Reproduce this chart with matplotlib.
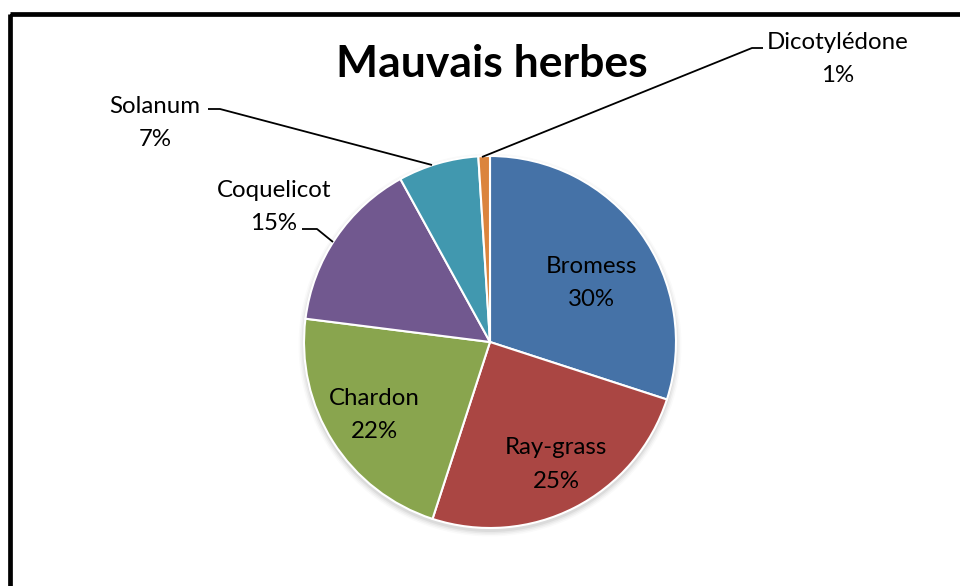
import matplotlib
matplotlib.use("Agg")
import matplotlib.pyplot as plt
from matplotlib.patches import Rectangle, Circle

# Weed shares (percent)
categories = ["Bromess", "Ray-grass", "Chardon", "Coquelicot", "Solanum", "Dicotylédone"]
values = [30, 25, 22, 15, 7, 1]
colors = ["#4572A7", "#AA4643", "#89A54E", "#71588F", "#4198AF", "#DB843D"]
title = "Mauvais herbes"

W, H = 960, 586
fig = plt.figure(figsize=(W / 100, H / 100), dpi=100)
ax = fig.add_axes([0, 0, 1, 1])

plt.rcParams["font.family"] = ["Lato", "DejaVu Sans"]

cx, cy, r = 490, 342, 186

# soft drop shadow under the pie
for k, a in enumerate([0.05, 0.04, 0.03, 0.02]):
    ax.add_patch(Circle((cx, cy + 3), r + 1 + k * 1.5, color="black",
                        alpha=a, lw=0, zorder=1))

# pie drawn in pixel space; y axis is inverted so direction is flipped
wedges, _ = ax.pie(values, colors=colors, startangle=-90, counterclock=True,
                   center=(cx, cy), radius=r,
                   wedgeprops=dict(edgecolor="white", linewidth=1.5), frame=True)
for w in wedges:
    w.set_zorder(2)
ax.set_xlim(0, W)
ax.set_ylim(H, 0)
ax.set_aspect("equal")
ax.axis("off")

fs = 17.3
# (x center, name baseline) for each label
label_pos = [(591, 273), (556, 454), (374, 405), (274, 197), (155, 113), (838, 49)]
step = 33.5
for name, v, (x, yb) in zip(categories, values, label_pos):
    ax.text(x, yb, name, ha="center", va="baseline", fontsize=fs, color="black", zorder=5)
    ax.text(x, yb + step, f"{v}%", ha="center", va="baseline", fontsize=fs, color="black", zorder=5)

# leader lines for the outside labels
leaders = {
    "Coquelicot": [(302, 229), (317, 229), (333, 242)],
    "Solanum": [(208, 109), (220, 109), (432, 165)],
    "Dicotylédone": [(763, 48), (752, 48), (482, 157)],
}
for pts in leaders.values():
    xs, ys = zip(*pts)
    ax.plot(xs, ys, color="black", lw=1.3, zorder=4, solid_capstyle="butt")

ax.text(492, 77, title, ha="center", va="baseline", fontsize=32,
        fontweight="bold", color="black", zorder=5)

# chart frame
ax.add_patch(Rectangle((9.5, 13.5), 2000, 2000, fill=False, edgecolor="black",
                       lw=3.4, zorder=6, clip_on=True))

fig.savefig("out.png", dpi=100)
